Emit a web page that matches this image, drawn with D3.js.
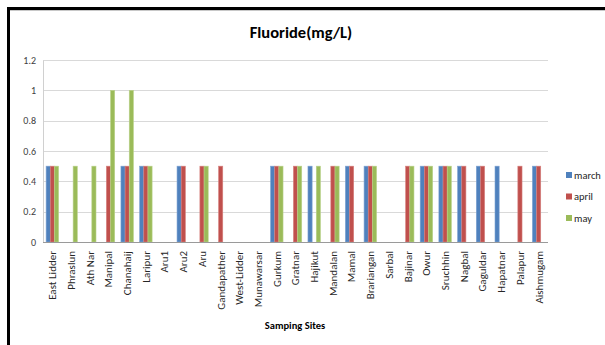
<!DOCTYPE html>
<html><head><meta charset="utf-8">
<script src="https://cdn.jsdelivr.net/npm/d3@7"></script>
<style>
html,body{margin:0;padding:0;background:#fff;}
svg{display:block;font-family:Carlito,Lato,"Open Sans",sans-serif;}
</style></head>
<body><div id="chart"></div>
<script>
const categories = ["East Lidder","Phraslun","Ath Nar","Manipal","Chanahaij","Laripur","Aru1","Aru2","Aru","Gandapather","West-Lidder","Munawarsar","Gurkum","Gratnar","Hajikut","Mandalan","Mamal","Brariangan","Sarbal","Bajinar","Owur","Sruchhin","Nagbal","Gaguldar","Hapatnar","Palapur","Aishmugam"];
const march = [0.5,0,0,0,0.5,0.5,0,0.5,0,0,0,0,0.5,0,0.5,0,0.5,0.5,0,0,0.5,0.5,0.5,0.5,0.5,0,0.5];
const april = [0.5,0,0,0.5,0.5,0.5,0,0.5,0.5,0.5,0,0,0.5,0.5,0,0.5,0.5,0.5,0,0.5,0.5,0.5,0.5,0.5,0,0.5,0.5];
const may   = [0.5,0.5,0.5,1,1,0.5,0,0,0.5,0,0,0,0.5,0.5,0.5,0.5,0,0.5,0,0.5,0.5,0.5,0,0,0,0,0];
const seriesNames = ["march","april","may"];
const yTicks = [0,0.2,0.4,0.6,0.8,1,1.2];
const chartTitle = "Fluoride(mg/L)";
const xTitle = "Samping Sites";

const colors = {march:"#4F81BD", april:"#C0504D", may:"#9BBB59"};
const strokes = {march:"#7EA3D3", april:"#D6807E", may:"#B9D28A"};
const seriesData = {march, april, may};

const W = 605, H = 345;
const svg = d3.select("#chart").append("svg").attr("width", W).attr("height", H);
svg.append("rect").attr("width", W).attr("height", H).attr("fill", "#fff");

// frame
svg.append("line").attr("x1", 7).attr("x2", W).attr("y1", 8.5).attr("y2", 8.5).attr("stroke", "#000").attr("stroke-width", 3);
svg.append("line").attr("x1", 8.5).attr("x2", 8.5).attr("y1", 7).attr("y2", H).attr("stroke", "#000").attr("stroke-width", 3);
svg.append("line").attr("x1", 10).attr("x2", W).attr("y1", 10.5).attr("y2", 10.5).attr("stroke", "#c8c8c8").attr("stroke-width", 1);

const pLeft = 43, pRight = 548, pTop = 60, pBottom = 242;
const x0 = d3.scaleBand().domain(categories).range([pLeft, pRight]).padding(0);
const step = x0.bandwidth();
const bw = step / 4.5;
const x1 = d3.scaleBand().domain(seriesNames).range([0.75 * bw, 0.75 * bw + 3 * bw]).padding(0);
const y = d3.scaleLinear().domain([0, 1.2]).range([pBottom, pTop]);

// gridlines
svg.append("g").selectAll("line").data(yTicks.filter(d => d > 0)).join("line")
  .attr("x1", pLeft).attr("x2", pRight)
  .attr("y1", d => Math.round(y(d)) + 0.5).attr("y2", d => Math.round(y(d)) + 0.5)
  .attr("stroke", "#d9d9d9").attr("stroke-width", 1);

// y axis
const yAxis = d3.axisLeft(y).tickValues(yTicks).tickSize(0).tickPadding(7).tickFormat(d => String(+d.toFixed(1)));
const ya = svg.append("g").attr("transform", `translate(${pLeft},0)`).call(yAxis);
ya.select(".domain").attr("stroke", "#d0d0d0");
ya.selectAll("text").attr("font-size", 10).attr("fill", "#404040").attr("font-family", "Carlito,Lato,sans-serif");

// bars
const g = svg.append("g");
categories.forEach((c, i) => {
  seriesNames.forEach(s => {
    const v = seriesData[s][i];
    if (v <= 0) return;
    g.append("rect")
      .attr("x", x0(c) + x1(s))
      .attr("y", y(v))
      .attr("width", x1.bandwidth())
      .attr("height", y(0) - y(v))
      .attr("fill", colors[s])
      .attr("stroke", strokes[s])
      .attr("stroke-width", 0.6);
  });
});

// x axis line
svg.append("line").attr("x1", pLeft).attr("x2", pRight).attr("y1", pBottom + 0.5).attr("y2", pBottom + 0.5)
  .attr("stroke", "#9a9a9a").attr("stroke-width", 1);

// x labels
svg.append("g").selectAll("text").data(categories).join("text")
  .attr("transform", d => `translate(${x0(d) + step / 2},${pBottom + 9}) rotate(-90)`)
  .attr("text-anchor", "end").attr("dy", "0.35em")
  .attr("font-size", 11).attr("fill", "#262626")
  .text(d => d);

// title
svg.append("text").attr("x", 301).attr("y", 37.5).attr("text-anchor", "middle")
  .attr("font-size", 16.5).attr("font-weight", "bold").attr("fill", "#000").text(chartTitle);

// x title
svg.append("text").attr("x", 295).attr("y", 329).attr("text-anchor", "middle")
  .attr("font-size", 10.5).attr("font-weight", "bold").attr("fill", "#000").text(xTitle);

// legend
const lg = svg.append("g");
seriesNames.forEach((s, i) => {
  const yy = 175 + i * 21.5;
  lg.append("rect").attr("x", 566).attr("y", yy - 3).attr("width", 6).attr("height", 6).attr("fill", colors[s]);
  lg.append("text").attr("x", 574).attr("y", yy).attr("dy", "0.35em")
    .attr("font-size", 10.5).attr("fill", "#262626").text(s);
});
</script>
</body></html>
